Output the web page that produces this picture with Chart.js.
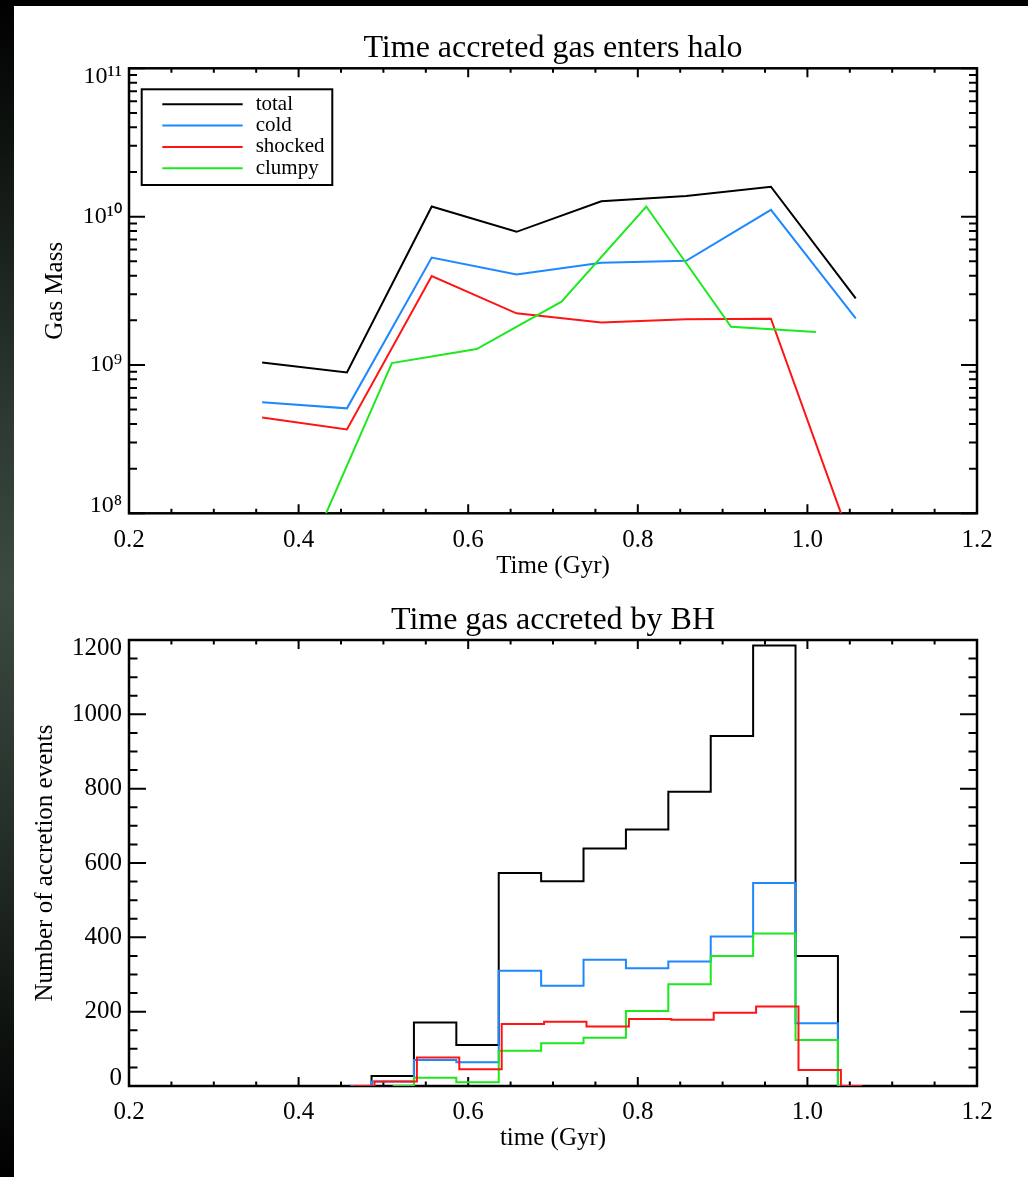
<!DOCTYPE html>
<html>
<head>
<meta charset="utf-8">
<script src="https://cdn.jsdelivr.net/npm/chart.js@4.4.1/dist/chart.umd.min.js"></script>
<style>
html, body { margin:0; padding:0; background:#000; width:1028px; height:1177px; overflow:hidden; }
#strip { position:absolute; left:0; top:0; width:14px; height:1177px;
  background:linear-gradient(to bottom,#000 0%,#121814 15%,#2c3831 35%,#3c4a41 50%,#26302a 70%,#0e120f 88%,#000 100%); }
#panel { position:absolute; left:14px; top:6px; width:1014px; height:1171px; background:#fff; }
canvas { position:absolute; left:0; }
#c1 { top:0; width:1092px; height:600px; }
#c2 { top:590px; width:1092px; height:587px; }
</style>
</head>
<body>
<div id="strip"></div>
<div id="panel"></div>
<canvas id="c1" width="1092" height="600"></canvas>
<canvas id="c2" width="1092" height="587"></canvas>
<script>
const FONT = "'Liberation Serif','Times New Roman',serif";

// ---------- Data: top panel (gas entering halo) ----------
const haloTimes   = [0.357, 0.457, 0.557, 0.657, 0.757, 0.857, 0.957, 1.057];
const totalMass   = [1.04e9, 8.9e8, 1.17e10, 7.9e9, 1.27e10, 1.38e10, 1.59e10, 2.81e9];
const coldMass    = [5.6e8, 5.1e8, 5.3e9, 4.08e9, 4.89e9, 5.04e9, 1.11e10, 2.06e9];
const shockedMass = [4.43e8, 3.68e8, 3.98e9, 2.23e9, 1.93e9, 2.03e9, 2.05e9, 5.3e7];
const clumpyTimes = [0.41, 0.51, 0.61, 0.71, 0.81, 0.91, 1.01];
const clumpyMass  = [5.1e7, 1.03e9, 1.28e9, 2.67e9, 1.17e10, 1.81e9, 1.67e9];

// ---------- Data: bottom panel (BH accretion histogram) ----------
const bhTimes       = [0.461, 0.511, 0.561, 0.611, 0.661, 0.711, 0.761, 0.811, 0.861, 0.911, 0.961, 1.011, 1.061];
const totalEvents   = [0, 27, 171, 110, 573, 551, 639, 690, 792, 942, 1185, 350, 0];
const coldEvents    = [0, 12, 70, 64, 310, 270, 340, 317, 335, 402, 546, 169, 0];
const clumpyBhTimes = [0.511, 0.561, 0.611, 0.661, 0.711, 0.761, 0.811, 0.861, 0.911, 0.961, 1.011, 1.061];
const clumpyEvents  = [0, 22, 10, 95, 115, 130, 202, 274, 350, 410, 124, 0];
const shockBhTimes  = [0.4645, 0.5145, 0.5645, 0.6145, 0.6645, 0.7145, 0.7645, 0.8145, 0.8645, 0.9145, 0.9645, 1.0145, 1.0645];
const shockEvents   = [0, 12, 77, 45, 167, 173, 160, 180, 178, 197, 214, 43, 0];

// ---------- Tick values / labels ----------
const xTickValues     = [0.2, 0.4, 0.6, 0.8, 1.0, 1.2];
const xTickLabels     = ['0.2', '0.4', '0.6', '0.8', '1.0', '1.2'];
const massTickValues  = [1e8, 1e9, 1e10, 1e11];
const massTickLabels  = ['10⁸', '10⁹', '10¹⁰', '10¹¹'];
const eventTickValues = [0, 200, 400, 600, 800, 1000, 1200];
const eventTickLabels = ['0', '200', '400', '600', '800', '1000', '1200'];

const seriesNames  = ['total', 'cold', 'shocked', 'clumpy'];
const seriesColors = ['#000000', '#1e88ff', '#ff1414', '#1ee81e'];

// ---------- helpers ----------
const pts = (xs, ys) => xs.map((x, i) => ({ x: x, y: ys[i] }));
const setTicks = vals => s => { s.ticks = vals.map(v => ({ value: v })); };
const endShift = labels => (v, i) => {
  const t = labels[i];
  if (i === 0) return [t, ''];
  if (i === labels.length - 1) return ['', t];
  return t;
};
function stepList(a, b, step) { const out = []; for (let v = a; v <= b + 1e-9; v += step) out.push(+v.toFixed(6)); return out; }
function logMinor(lo, hi) { const out = []; for (let e = lo; e < hi; e++) for (let k = 2; k <= 9; k++) out.push(k * Math.pow(10, e)); return out; }

Chart.defaults.font.family = FONT;
Chart.defaults.color = '#000';

// inward IDL style ticks + box frame
const idlFrame = {
  id: 'idlFrame',
  beforeDatasetsDraw(chart, args, o) {
    const { ctx, chartArea: a } = chart;
    const x = chart.scales.x, y = chart.scales.y;
    ctx.save();
    ctx.strokeStyle = '#000';
    ctx.lineWidth = 2;
    ctx.beginPath();
    const dx = (vals, len) => vals.forEach(v => {
      const p = x.getPixelForValue(v);
      ctx.moveTo(p, a.bottom); ctx.lineTo(p, a.bottom - len);
      ctx.moveTo(p, a.top); ctx.lineTo(p, a.top + len);
    });
    const dy = (vals, len) => vals.forEach(v => {
      const p = y.getPixelForValue(v);
      ctx.moveTo(a.left, p); ctx.lineTo(a.left + len, p);
      ctx.moveTo(a.right, p); ctx.lineTo(a.right - len, p);
    });
    dx(o.xMinor, o.xMinorLen); dx(o.xMajor, o.xMajorLen);
    dy(o.yMinor, o.yMinorLen); dy(o.yMajor, o.yMajorLen);
    ctx.stroke();
    ctx.lineWidth = 2.5;
    ctx.strokeRect(a.left, a.top, a.right - a.left, a.bottom - a.top);
    ctx.restore();
  }
};

// boxed legend inside the plot
const boxLegend = {
  id: 'boxLegend',
  afterDatasetsDraw(chart, args, o) {
    if (!o || !o.show) return;
    const { ctx, chartArea: a } = chart;
    const bx = a.left + o.dx, by = a.top + o.dy;
    ctx.save();
    ctx.fillStyle = '#fff';
    ctx.fillRect(bx, by, o.w, o.h);
    ctx.strokeStyle = '#000';
    ctx.lineWidth = 2;
    ctx.strokeRect(bx, by, o.w, o.h);
    ctx.font = '21px ' + FONT;
    ctx.textBaseline = 'middle';
    ctx.textAlign = 'left';
    const ds = chart.data.datasets.slice().sort((p, q) => p.legendIndex - q.legendIndex);
    ds.forEach((d, i) => {
      const ly = by + o.first + i * o.step;
      ctx.strokeStyle = d.borderColor;
      ctx.lineWidth = 2;
      ctx.beginPath(); ctx.moveTo(bx + o.l1, ly); ctx.lineTo(bx + o.l2, ly); ctx.stroke();
      ctx.fillStyle = '#000';
      ctx.fillText(d.label, bx + o.tx, ly);
    });
    ctx.restore();
  }
};

function xAxis(title, titleBottom) {
  return {
    type: 'linear', position: 'bottom', min: 0.2, max: 1.2,
    afterBuildTicks: setTicks(xTickValues),
    afterFit: s => { s.height = 80; },
    grid: { display: false, drawTicks: false },
    border: { display: false },
    ticks: { autoSkip: false, maxRotation: 0, padding: 11.7, font: { size: 25 }, color: '#000',
             callback: (v, i) => xTickLabels[i] },
    title: { display: true, text: title, font: { size: 25 }, color: '#000', padding: { top: 0, bottom: titleBottom } }
  };
}
function rightDummy(type, min, max) {
  return {
    type: type, position: 'right', min: min, max: max, display: true,
    afterFit: s => { s.width = 115; },
    grid: { display: false, drawTicks: false },
    border: { display: false },
    ticks: { display: false }
  };
}
const lineDs = (label, data, color, order, legendIndex, extra) => Object.assign({
  label: label, data: data, borderColor: color, backgroundColor: color,
  borderWidth: 2, pointRadius: 0, fill: false, tension: 0, order: order, legendIndex: legendIndex
}, extra || {});

// ---------- Top chart ----------
new Chart(document.getElementById('c1'), {
  type: 'line',
  data: {
    datasets: [
      lineDs(seriesNames[0], pts(haloTimes, totalMass), seriesColors[0], 4, 0),
      lineDs(seriesNames[1], pts(haloTimes, coldMass), seriesColors[1], 3, 1),
      lineDs(seriesNames[2], pts(haloTimes, shockedMass), seriesColors[2], 2, 2),
      lineDs(seriesNames[3], pts(clumpyTimes, clumpyMass), seriesColors[3], 1, 3)
    ]
  },
  options: {
    responsive: false, animation: false, events: [],
    layout: { padding: { left: 14, right: 0, top: 0, bottom: 6.7 } },
    scales: {
      x: xAxis('Time (Gyr)', 12.3),
      y: {
        type: 'logarithmic', position: 'left', min: 1e8, max: 1e11,
        afterBuildTicks: setTicks(massTickValues),
        afterFit: s => { s.width = 115; },
        grid: { display: false, drawTicks: false },
        border: { display: false },
        ticks: { autoSkip: false, padding: 7, font: { size: 24, lineHeight: 16 / 24 }, color: '#000',
                 callback: endShift(massTickLabels) },
        title: { display: true, text: 'Gas Mass', font: { size: 25 }, color: '#000', padding: { top: 26, bottom: 0 } }
      },
      y2: rightDummy('logarithmic', 1e8, 1e11)
    },
    plugins: {
      legend: { display: false },
      tooltip: { enabled: false },
      title: { display: true, text: 'Time accreted gas enters halo', color: '#000',
               font: { size: 32, weight: 'normal' }, padding: { top: 29.0, bottom: 0.9 } },
      idlFrame: {
        xMajor: xTickValues, xMinor: stepList(0.2, 1.2, 0.05), xMajorLen: 9, xMinorLen: 4.5,
        yMajor: massTickValues, yMinor: logMinor(8, 11), yMajorLen: 16, yMinorLen: 8
      },
      boxLegend: { show: true, dx: 12.7, dy: 21, w: 190.6, h: 95.7, first: 15, step: 21.3, l1: 20.6, l2: 101, tx: 114 }
    }
  },
  plugins: [idlFrame, boxLegend]
});

// ---------- Bottom chart ----------
const stepOpt = { stepped: 'middle' };
new Chart(document.getElementById('c2'), {
  type: 'line',
  data: {
    datasets: [
      lineDs(seriesNames[0], pts(bhTimes, totalEvents), seriesColors[0], 4, 0, stepOpt),
      lineDs(seriesNames[1], pts(bhTimes, coldEvents), seriesColors[1], 3, 1, stepOpt),
      lineDs(seriesNames[3], pts(clumpyBhTimes, clumpyEvents), seriesColors[3], 2, 3, stepOpt),
      lineDs(seriesNames[2], pts(shockBhTimes, shockEvents), seriesColors[2], 1, 2, stepOpt)
    ]
  },
  options: {
    responsive: false, animation: false, events: [],
    layout: { padding: { left: 14, right: 0, top: 0, bottom: 11 } },
    scales: {
      x: xAxis('time (Gyr)', 12.4),
      y: {
        type: 'linear', position: 'left', min: 0, max: 1200,
        afterBuildTicks: setTicks(eventTickValues),
        afterFit: s => { s.width = 115; },
        grid: { display: false, drawTicks: false },
        border: { display: false },
        ticks: { autoSkip: false, padding: 7, font: { size: 25, lineHeight: 16 / 25 }, color: '#000',
                 callback: endShift(eventTickLabels) },
        title: { display: true, text: 'Number of accretion events', font: { size: 25 }, color: '#000', padding: { top: 16.4, bottom: 0 } }
      },
      y2: rightDummy('linear', 0, 1200)
    },
    plugins: {
      legend: { display: false },
      tooltip: { enabled: false },
      title: { display: true, text: 'Time gas accreted by BH', color: '#000',
               font: { size: 32, weight: 'normal' }, padding: { top: 11.0, bottom: 0.6 } },
      idlFrame: {
        xMajor: xTickValues, xMinor: stepList(0.2, 1.2, 0.05), xMajorLen: 9, xMinorLen: 4.5,
        yMajor: eventTickValues, yMinor: stepList(0, 1200, 50), yMajorLen: 17, yMinorLen: 8.5
      },
      boxLegend: { show: false }
    }
  },
  plugins: [idlFrame, boxLegend]
});
</script>
</body>
</html>
